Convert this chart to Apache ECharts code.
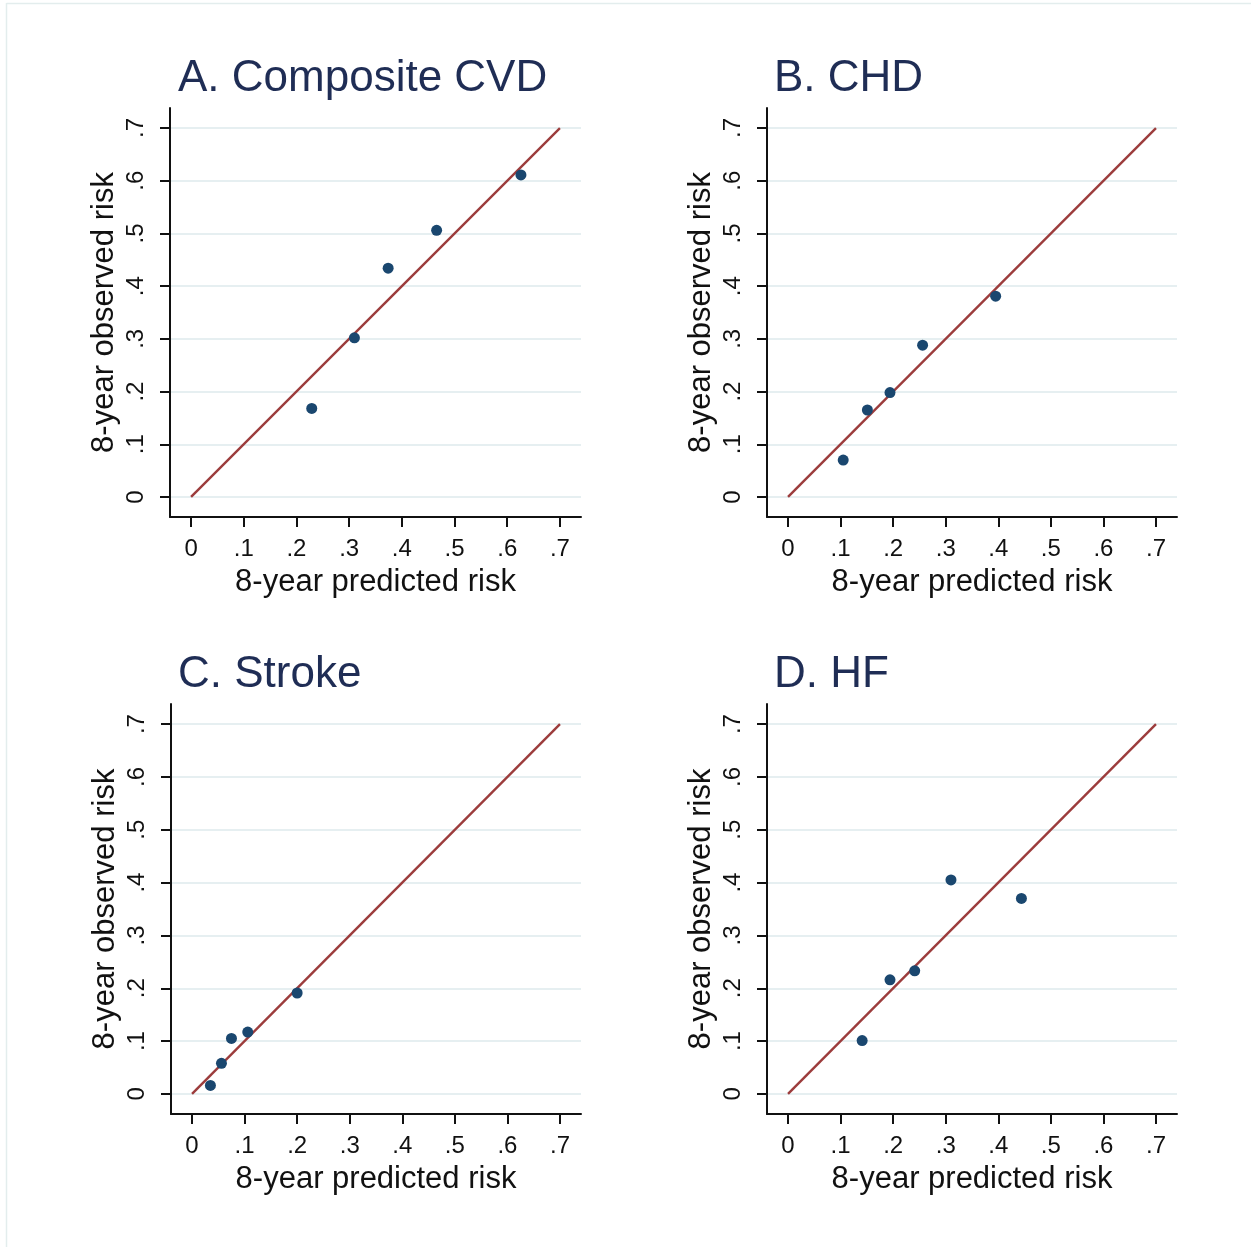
<!DOCTYPE html>
<html>
<head>
<meta charset="utf-8">
<script src="https://cdn.jsdelivr.net/npm/echarts@6/dist/echarts.min.js"></script>
<style>
html,body{margin:0;padding:0;background:#fff;}
#c{width:1251px;height:1247px;}
</style>
</head>
<body>
<div id="c"></div>
<script>
// ---- data ----
var panelTitles = ['A. Composite CVD', 'B. CHD', 'C. Stroke', 'D. HF'];
var tickValues = [0, 0.1, 0.2, 0.3, 0.4, 0.5, 0.6, 0.7];
var xAxisTitle = '8-year predicted risk';
var yAxisTitle = '8-year observed risk';
var refLine = [[0, 0], [0.7, 0.7]];

var predA = [0.229, 0.310, 0.374, 0.466, 0.626];
var obsA  = [0.168, 0.302, 0.434, 0.506, 0.611];
var predB = [0.105, 0.151, 0.194, 0.256, 0.395];
var obsB  = [0.070, 0.165, 0.198, 0.288, 0.381];
var predC = [0.035, 0.056, 0.075, 0.106, 0.200];
var obsC  = [0.016, 0.058, 0.105, 0.117, 0.191];
var predD = [0.141, 0.194, 0.241, 0.310, 0.444];
var obsD  = [0.101, 0.216, 0.233, 0.405, 0.370];

// ---- build ----
var preds = [predA, predB, predC, predD];
var obss = [obsA, obsB, obsC, obsD];
var grids = [
  {left: 170, top: 108, width: 411, height: 409},
  {left: 767, top: 108, width: 410, height: 409},
  {left: 171, top: 704, width: 410, height: 410},
  {left: 767, top: 704, width: 410, height: 410}
];
var titlePos = [
  {left: 173, top: 52},
  {left: 769, top: 52},
  {left: 173, top: 648},
  {left: 769, top: 648}
];
var FONT = '"Liberation Sans", Arial, Helvetica, sans-serif';
function fmt(v){ return v === 0 ? '0' : String(v).replace(/^0/, ''); }

var option = {
  backgroundColor: '#ffffff',
  animation: false,
  title: [],
  grid: [],
  xAxis: [],
  yAxis: [],
  series: [],
  graphic: [
    {type: 'line', shape: {x1: 6.5, y1: 3, x2: 6.5, y2: 1247}, style: {stroke: '#e3eded', lineWidth: 1.5}},
    {type: 'line', shape: {x1: 6.5, y1: 3.5, x2: 1251, y2: 3.5}, style: {stroke: '#e3eded', lineWidth: 1.5}}
  ]
};

for (var i = 0; i < 4; i++) {
  option.title.push({
    text: panelTitles[i],
    left: titlePos[i].left, top: titlePos[i].top,
    textStyle: {fontFamily: FONT, fontSize: 44, fontWeight: 'normal', color: '#1f2d55'}
  });
  option.grid.push(grids[i]);
  option.xAxis.push({
    type: 'value', gridIndex: i, min: -0.04, max: 0.74,
    name: xAxisTitle, nameLocation: 'middle', nameGap: 50,
    nameTextStyle: {fontFamily: FONT, fontSize: 31, color: '#111'},
    axisLine: {show: true, onZero: false, lineStyle: {color: '#111', width: 2}},
    axisTick: {show: true, length: 10, customValues: tickValues, lineStyle: {color: '#111', width: 2}},
    axisLabel: {customValues: tickValues, formatter: fmt, margin: 20,
      fontFamily: FONT, fontSize: 24, color: '#111'},
    splitLine: {show: false}
  });
  option.yAxis.push({
    type: 'value', gridIndex: i, min: -0.038, max: 0.738,
    name: yAxisTitle, nameLocation: 'middle', nameGap: 50, nameRotate: 90,
    nameTextStyle: {fontFamily: FONT, fontSize: 31, color: '#111'},
    axisLine: {show: true, onZero: false, lineStyle: {color: '#111', width: 2}},
    axisTick: {show: true, length: 10, customValues: tickValues, lineStyle: {color: '#111', width: 2}},
    axisLabel: {customValues: tickValues, formatter: fmt, margin: 22, rotate: 90,
      fontFamily: FONT, fontSize: 24, color: '#111'},
    splitLine: {show: true, lineStyle: {color: '#e6eff1', width: 2}}
  });
  option.series.push({
    type: 'line', xAxisIndex: i, yAxisIndex: i,
    data: refLine, symbol: 'none', silent: true,
    lineStyle: {color: '#9c3c3c', width: 2.4}, z: 3
  });
  var pts = [];
  for (var k = 0; k < preds[i].length; k++) pts.push([preds[i][k], obss[i][k]]);
  option.series.push({
    type: 'scatter', xAxisIndex: i, yAxisIndex: i,
    data: pts, symbol: 'circle', symbolSize: 11,
    itemStyle: {color: '#1a476f', opacity: 1}, z: 4
  });
}

var chart = echarts.init(document.getElementById('c'), null, {renderer: 'canvas'});
chart.setOption(option);
</script>
</body>
</html>
